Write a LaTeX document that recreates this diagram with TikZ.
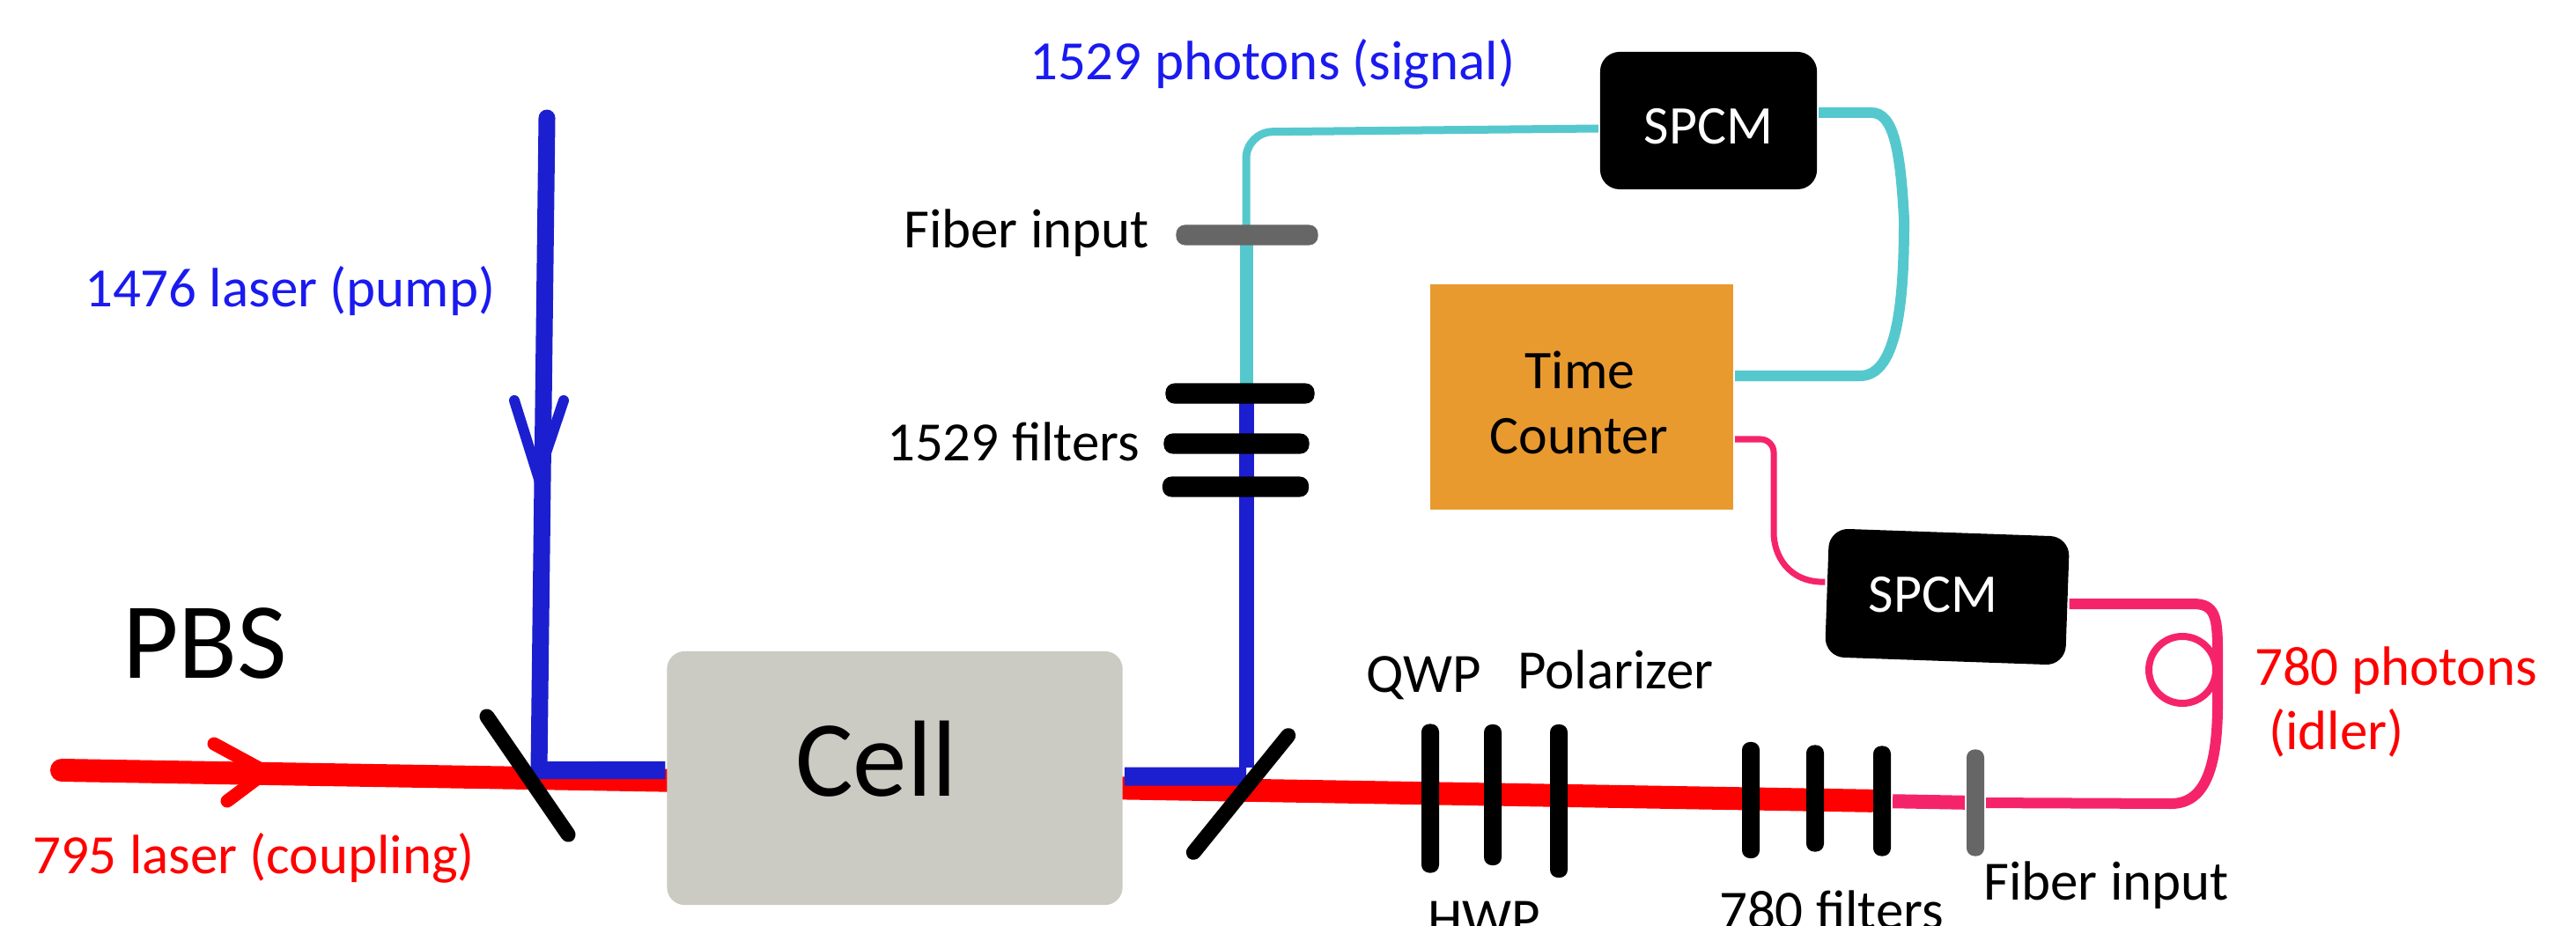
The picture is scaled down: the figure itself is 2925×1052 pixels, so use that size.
\documentclass[tikz,border=0pt]{standalone}
\usepackage{fontspec}
\setmainfont{Carlito}
\usetikzlibrary{backgrounds}
\definecolor{pumpblue}{HTML}{1C1FCF}
\definecolor{textblue}{HTML}{1A1AF0}
\definecolor{beamred}{HTML}{FF0000}
\definecolor{fiberteal}{HTML}{55C8CE}
\definecolor{fiberpink}{HTML}{F5246A}
\definecolor{cellgray}{HTML}{CBCAC3}
\definecolor{counterorange}{HTML}{E99A2F}
\definecolor{inputgray}{HTML}{666666}
\begin{document}
\begin{tikzpicture}[x=0.01cm, y=-0.01cm, very thick]
	\tikzstyle{labelA}  = [anchor=base west, inner sep=0pt, font=\fontsize{17.9}{21}\selectfont, text=black]
	\tikzstyle{labelB}  = [anchor=base west, inner sep=0pt, font=\fontsize{17.9}{21}\selectfont, text=textblue]
	\tikzstyle{labelC}  = [anchor=base west, inner sep=0pt, font=\fontsize{17.9}{21}\selectfont, text=beamred]
	\tikzstyle{labelD}  = [anchor=base west, inner sep=0pt, font=\fontsize{35}{40}\selectfont, text=black]
	\tikzstyle{labelE}  = [anchor=base, inner sep=0pt, font=\fontsize{17.6}{21}\selectfont, text=black]
	\tikzstyle{labelF}  = [anchor=base, inner sep=0pt, font=\fontsize{17.6}{21}\selectfont, text=white]
	\tikzstyle{plateV}  = [rectangle, rounded corners=0.09cm, inner sep=0pt, fill=black, minimum width=0.2cm]
	\tikzstyle{plateH}  = [rectangle, rounded corners=0.1cm, inner sep=0pt, fill=black, minimum height=0.23cm]
	\tikzstyle{spcm}    = [rectangle, rounded corners=0.22cm, inner sep=0pt, fill=black]
	\tikzstyle{redbeam} = [draw=beamred, line width=0.26cm, line cap=round]
	\tikzstyle{bluebeam}= [draw=pumpblue, line width=0.19cm]
	\tikzstyle{tealA}   = [draw=fiberteal, line width=0.12cm]
	\tikzstyle{pinkA}   = [draw=fiberpink, line width=0.1cm]

	\useasboundingbox (0,0) rectangle (2925,1052);

	\node[rectangle, rounded corners=0.2cm, inner sep=0pt, fill=cellgray, minimum width=5.17cm, minimum height=2.88cm] (cell) at (1016, 884) {};
	\node[rectangle, inner sep=0pt, fill=counterorange, minimum width=3.44cm, minimum height=2.55cm] (counter) at (1796, 451) {};
	\node[spcm, minimum width=2.46cm, minimum height=1.56cm] (spcmA) at (1940, 137) {};
	\node[spcm, minimum width=2.73cm, minimum height=1.46cm, rotate=-2] (spcmB) at (2211, 678) {};

	% tilted mirrors
	\node[plateV, minimum width=0.17cm, minimum height=1.8cm, rotate=34.5] (pbsA) at (599, 881) {};
	\node[plateV, minimum width=0.17cm, minimum height=1.88cm, rotate=-39] (pbsB) at (1409, 902) {};

	\foreach \name/\x/\y/\len/\styl in {qwp/1624/907/1.69/black, hwp/1695/903/1.6/black, pol/1770/910/1.74/black, fltD/1988/909/1.32/black, fltE/2061/907/1.21/black, fltF/2137/910/1.25/black, inB/2243/912/1.21/inputgray}
		\node[plateV, fill=\styl, minimum height=\len cm] (\name) at (\x, \y) {};

	\foreach \name/\x/\y/\len/\styl in {fltA/1408/447/1.69/black, fltB/1404/504/1.65/black, fltC/1403/553/1.66/black, inA/1416/267/1.61/inputgray}
		\node[plateH, fill=\styl, minimum width=\len cm] (\name) at (\x, \y) {};

	\foreach \name/\txt/\x/\y/\styl in {pump/1476 laser (pump)/94/349/B, coupling/795 laser (coupling)/35/992/C, signal/1529 photons (signal)/1167/91/B, inAtext/Fiber input/1024/282/A, fltAtext/1529 filters/1005/523/A, qwptext/QWP/1549/786/A, poltext/Polarizer/1721/782/A, hwptext/HWP/1619/1064/A, fltDtext/780 filters/1950/1055/A, inBtext/Fiber input/2250/1022/A, idlerA/780 photons/2558/778/C, idlerB/(idler)/2574/851/C, pbstext/PBS/137/770/D, celltext/Cell/901/904/D, timetext/Time/1794/441/E, countertext/Counter/1793/515/E, spcmAtext/SPCM/1940/164/F, spcmBtext/SPCM/2195/695/F}
		\node[label\styl] (\name) at (\x, \y) {\txt};

	\coordinate (redstart) at (70, 875);
	\coordinate (pumpstart) at (621, 134);
	\coordinate (pumpcorner) at (612, 875);
	\coordinate (signalcorner) at (1415, 882);

	\begin{pgfonlayer}{background}
		\draw[redbeam] (redstart) -- (fltF);
		\draw[bluebeam, line cap=round] (pumpstart) -- (pumpcorner);
		\draw[bluebeam, line width=0.2cm] ([xshift=-0.09cm]pumpcorner) -- ([yshift=0.09cm]cell.west);
		\draw[bluebeam, line width=0.21cm] ([yshift=0.02cm]cell.east) -- (signalcorner);
		\draw[bluebeam, line width=0.17cm] ([yshift=0.1cm]signalcorner) -- (signalcorner |- fltA);

		\draw[tealA, line width=0.15cm] (signalcorner |- fltA) -- (signalcorner |- inA);
		\draw[tealA, line width=0.09cm, rounded corners=0.3cm] (signalcorner |- inA) -- (1415, 150) -- ([yshift=-0.09cm]spcmA.west);
		\draw[tealA] ([yshift=0.09cm]spcmA.east) -- (2125, 128) .. controls (2150, 128) and (2158, 170) .. (2162, 250) .. controls (2162, 340) and (2155, 427) .. (2112, 427) -- (counter.east |- 0,427);

		\draw[pinkA, line width=0.16cm] (fltF) -- (inB);
		\draw[pinkA, line width=0.12cm] (inB) -- (2465, 913) .. controls (2500, 913) and (2518, 880) .. (2518, 800) -- (2518, 740) .. controls (2518, 700) and (2515, 686) .. (2490, 686) -- (spcmB.east |- 0,686);
		\draw[pinkA, line width=0.07cm, rounded corners=0.15cm] (counter.east |- 0,499) -- (2014, 499) -- (2014, 590) .. controls (2014, 630) and (2030, 662) .. ([yshift=0.12cm]spcmB.west);
		\draw[pinkA, line width=0.08cm] (2478, 761) ellipse (0.38cm and 0.38cm);
	\end{pgfonlayer}

	% arrow heads on the free beams
	\coordinate (pumpwingA) at (584, 455);
	\coordinate (pumptip) at (611, 541);
	\coordinate (pumpwingB) at (640, 455);
	\coordinate (redwingA) at (243, 845);
	\coordinate (redtip) at (302, 877);
	\coordinate (redwingB) at (258, 910);
	\draw[draw=pumpblue, line width=0.12cm, line cap=round] (pumpwingA) -- (pumptip) -- (pumpwingB);
	\draw[draw=beamred, line width=0.15cm, line cap=round] (redwingA) -- (redtip) -- (redwingB);

\end{tikzpicture}
\end{document}
